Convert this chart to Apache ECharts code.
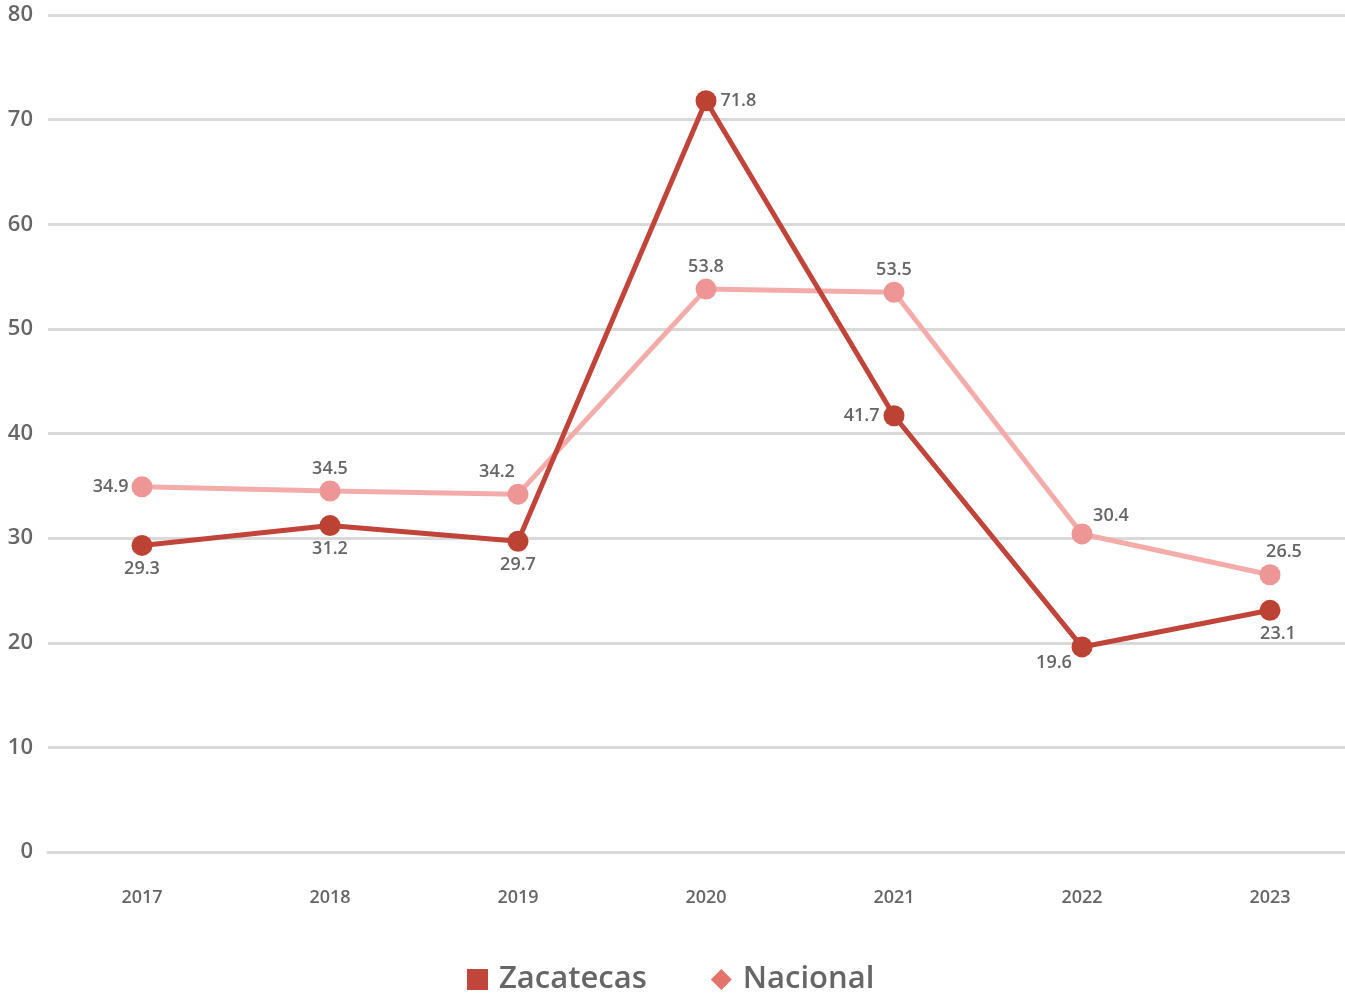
<!DOCTYPE html>
<html><head><meta charset="utf-8">
<script src="https://cdn.jsdelivr.net/npm/echarts@6/dist/echarts.min.js"></script>
<style>html,body{margin:0;padding:0;background:#fff}#c{width:1345px;height:1000px}</style>
</head><body><div id="c"></div>
<script>
const years = ['2017','2018','2019','2020','2021','2022','2023'];
const zacatecas = [29.3, 31.2, 29.7, 71.8, 41.7, 19.6, 23.1];
const nacional = [34.9, 34.5, 34.2, 53.8, 53.5, 30.4, 26.5];
const yTicks = [0, 10, 20, 30, 40, 50, 60, 70, 80];

const zacPos = ['bottom','bottom','bottom','right','left','bottom','bottom'];
const zacOff = [[0,0],[0,0],[0,0],[0,0],[0,0],[-28,-8],[8,0]];
const nacPos = ['left','top','top','top','top','top','top'];
const nacOff = [[0,0],[0,0],[-21,0],[0,0],[0,0],[29,4],[14,0]];

const font = 'Open Sans';
const chart = echarts.init(document.getElementById('c'));
chart.setOption({
  animation: false,
  textStyle: {fontFamily: font},
  grid: {left: 48, width: 1316, top: 15, bottom: 148, outerBoundsMode: 'none'},
  legend: {
    bottom: 0, left: 462, itemGap: 64, itemWidth: 21, itemHeight: 21,
    textStyle: {fontSize: 31, color: '#666', fontWeight: 600, fontFamily: font, padding: [0,0,0,6]},
    data: [
      {name: 'Zacatecas', icon: 'rect', itemStyle: {color: '#C0453A'}},
      {name: 'Nacional', icon: 'diamond', itemStyle: {color: '#E4736C'}}
    ]
  },
  xAxis: {
    type: 'category', data: years, boundaryGap: true,
    axisLine: {lineStyle: {color: '#d9d9d9', width: 3}},
    axisTick: {alignWithLabel: true, length: 30, lineStyle: {color: '#d9d9d9', width: 3}},
    axisLabel: {color: '#666', fontSize: 18, fontWeight: 600, margin: 37}
  },
  yAxis: {
    type: 'value', min: yTicks[0], max: yTicks[yTicks.length-1], interval: 10,
    axisLine: {show: false}, axisTick: {show: false},
    splitLine: {lineStyle: {color: '#d9d9d9', width: 3}},
    axisLabel: {color: '#666', fontSize: 22, fontWeight: 600, margin: 15}
  },
  series: [
    {
      name: 'Nacional', type: 'line', z: 2,
      symbol: 'circle', symbolSize: 21,
      lineStyle: {color: '#F4ACAA', width: 5},
      itemStyle: {color: '#EE9595'},
      data: nacional.map((v,i)=>({value: v, label: {position: nacPos[i], offset: nacOff[i]}})),
      label: {show: true, color: '#666', fontSize: 18, fontWeight: 600, distance: 3}
    },
    {
      name: 'Zacatecas', type: 'line', z: 3,
      symbol: 'circle', symbolSize: 21,
      lineStyle: {color: '#C1443A', width: 5},
      itemStyle: {color: '#BC4334'},
      data: zacatecas.map((v,i)=>({value: v, label: {position: zacPos[i], offset: zacOff[i]}})),
      label: {show: true, color: '#666', fontSize: 18, fontWeight: 600, distance: 4}
    }
  ]
});
</script></body></html>
